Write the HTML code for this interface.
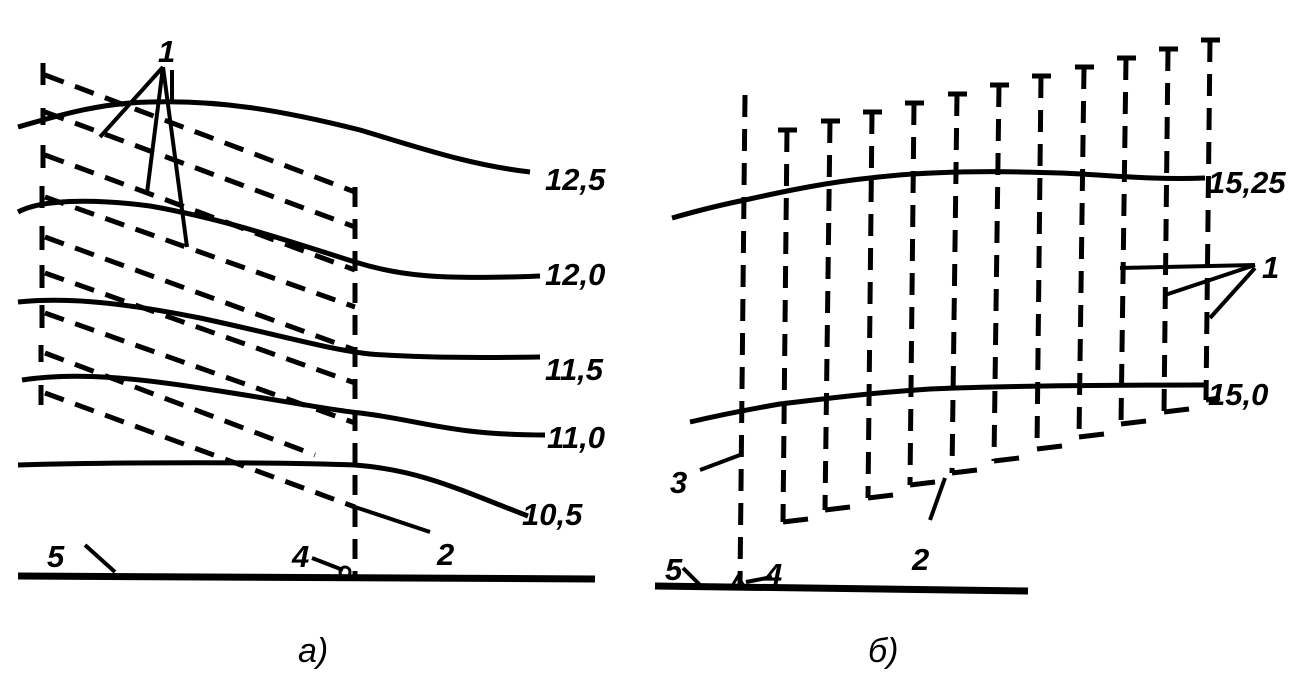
<!DOCTYPE html>
<html><head><meta charset="utf-8"><style>
html,body{margin:0;padding:0;background:#fff;}
svg{display:block;}
text{font-family:"Liberation Sans",sans-serif;font-weight:bold;font-style:italic;fill:#000;}
</style></head><body>
<svg width="1314" height="679" viewBox="0 0 1314 679" xmlns="http://www.w3.org/2000/svg">
<g fill="none" stroke="#000" stroke-linecap="butt">
<!-- LEFT PANEL -->
<line x1="18" y1="576" x2="595" y2="579" stroke-width="7"/>
<!-- solid contours -->
<g stroke-width="5">
<path d="M18,127 C60,115 100,103 150,102 C220,100 280,110 360,130 C420,148 470,165 530,172"/>
<path d="M18,212 C40,200 90,198 150,206 C230,220 300,245 355,262 C400,276 440,280 540,276"/>
<path d="M18,302 C60,298 110,300 200,318 C280,335 330,350 370,354 C420,358 480,358 540,357"/>
<path d="M22,380 C60,374 110,374 200,388 C280,400 330,410 360,413 C420,420 450,435 545,435"/>
<path d="M18,465 C120,462 280,462 355,465 C420,470 460,490 528,516"/>
</g>
<!-- dashed diagonals -->
<g stroke-width="5" stroke-dasharray="20,12">
<line x1="45" y1="75" x2="355" y2="192"/>
<line x1="45" y1="112" x2="355" y2="227"/>
<line x1="45" y1="155" x2="355" y2="270"/>
<line x1="45" y1="197" x2="355" y2="307"/>
<line x1="45" y1="237" x2="355" y2="350"/>
<line x1="45" y1="273" x2="355" y2="383"/>
<line x1="45" y1="313" x2="355" y2="423"/>
<line x1="45" y1="353" x2="315" y2="455"/>
<line x1="45" y1="393" x2="355" y2="507"/>
<line x1="355" y1="187" x2="355" y2="575"/>
</g>
<!-- left ticks -->
<g stroke-width="5">
<line x1="43" y1="63" x2="43" y2="85"/>
<line x1="43" y1="108" x2="43" y2="125"/>
<line x1="43" y1="145" x2="43" y2="168"/>
<line x1="42" y1="186" x2="42" y2="208"/>
<line x1="42" y1="226" x2="42" y2="250"/>
<line x1="42" y1="265" x2="42" y2="288"/>
<line x1="42" y1="305" x2="42" y2="328"/>
<line x1="41" y1="345" x2="41" y2="362"/>
<line x1="41" y1="385" x2="41" y2="405"/>
</g>
<!-- leaders -->
<g stroke-width="4">
<line x1="163" y1="67" x2="100" y2="137"/>
<line x1="163" y1="67" x2="147" y2="193"/>
<line x1="163" y1="67" x2="187" y2="247"/>
<line x1="172" y1="70" x2="172" y2="100"/>
<line x1="355" y1="507" x2="430" y2="532"/>
<line x1="85" y1="545" x2="115" y2="572"/>
<line x1="312" y1="558" x2="343" y2="570"/>
</g>
<circle cx="345" cy="572" r="5" stroke-width="3"/>

<!-- RIGHT PANEL -->
<line x1="655" y1="586" x2="1028" y2="591" stroke-width="7"/>
<g stroke-width="5">
<path d="M672,218 C700,210 720,205 745,200 C790,190 830,182 870,178 C920,172 980,170 1060,173 C1110,175 1150,180 1205,178"/>
<path d="M690,422 C720,415 745,410 780,404 C830,398 870,393 930,389 C1000,386 1100,385 1205,385"/>
</g>
<g stroke-width="5" stroke-dasharray="22,12">
<line x1="745" y1="95" x2="740" y2="585"/>
<line x1="787" y1="130" x2="783" y2="522"/>
<line x1="830" y1="121" x2="825" y2="510"/>
<line x1="872" y1="112" x2="868" y2="498"/>
<line x1="914" y1="103" x2="910" y2="485"/>
<line x1="957" y1="94" x2="952" y2="473"/>
<line x1="999" y1="85" x2="994" y2="461"/>
<line x1="1041" y1="76" x2="1037" y2="449"/>
<line x1="1084" y1="67" x2="1079" y2="437"/>
<line x1="1126" y1="58" x2="1121" y2="424"/>
<line x1="1168" y1="49" x2="1164" y2="412"/>
<line x1="1210" y1="40" x2="1206" y2="400"/>
</g>
<g stroke-width="5">
<!-- top T bars -->
<line x1="778" y1="130" x2="797" y2="130"/>
<line x1="821" y1="121" x2="840" y2="121"/>
<line x1="863" y1="112" x2="882" y2="112"/>
<line x1="905" y1="103" x2="924" y2="103"/>
<line x1="948" y1="94" x2="967" y2="94"/>
<line x1="990" y1="85" x2="1009" y2="85"/>
<line x1="1032" y1="76" x2="1051" y2="76"/>
<line x1="1075" y1="67" x2="1094" y2="67"/>
<line x1="1117" y1="58" x2="1136" y2="58"/>
<line x1="1159" y1="49" x2="1178" y2="49"/>
<line x1="1201" y1="40" x2="1220" y2="40"/>
<!-- bottom L feet -->
<line x1="783" y1="522" x2="808" y2="519"/>
<line x1="825" y1="510" x2="850" y2="507"/>
<line x1="868" y1="498" x2="893" y2="495"/>
<line x1="910" y1="485" x2="935" y2="482"/>
<line x1="952" y1="473" x2="977" y2="470"/>
<line x1="994" y1="461" x2="1019" y2="458"/>
<line x1="1037" y1="449" x2="1062" y2="446"/>
<line x1="1079" y1="437" x2="1104" y2="434"/>
<line x1="1121" y1="424" x2="1146" y2="421"/>
<line x1="1164" y1="412" x2="1189" y2="409"/>
<line x1="1206" y1="400" x2="1220" y2="398"/>
</g>
<g stroke-width="4">
<line x1="1120" y1="268" x2="1255" y2="265"/>
<line x1="1255" y1="265" x2="1165" y2="295"/>
<line x1="1255" y1="268" x2="1210" y2="318"/>
<line x1="700" y1="470" x2="740" y2="455"/>
<line x1="930" y1="520" x2="945" y2="478"/>
<line x1="683" y1="568" x2="700" y2="585"/>
<line x1="746" y1="582" x2="772" y2="577"/>
</g>
<path d="M732,586 L738,576 L744,586" stroke-width="3"/>
</g>
<g font-size="31">
<text x="158" y="62">1</text>
<text x="545" y="190">12,5</text>
<text x="545" y="285">12,0</text>
<text x="545" y="380">11,5</text>
<text x="547" y="448">11,0</text>
<text x="522" y="525">10,5</text>
<text x="47" y="567">5</text>
<text x="292" y="567">4</text>
<text x="437" y="565">2</text>
<text x="1208" y="193">15,25</text>
<text x="1208" y="405">15,0</text>
<text x="1262" y="278">1</text>
<text x="670" y="493">3</text>
<text x="665" y="580">5</text>
<text x="765" y="585">4</text>
<text x="912" y="570">2</text>
</g>
<g font-size="34" style="font-weight:normal">
<text x="298" y="662" style="font-weight:normal">а)</text>
<text x="868" y="662" style="font-weight:normal">б)</text>
</g>
</svg>
</body></html>
